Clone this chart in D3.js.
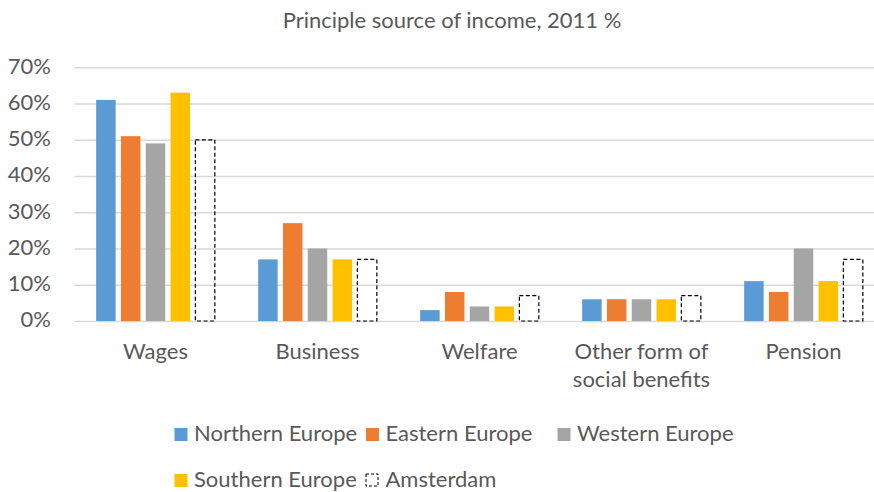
<!DOCTYPE html>
<html>
<head>
<meta charset="utf-8">
<script src="https://cdn.jsdelivr.net/npm/d3@7"></script>
<style>
  html, body { margin: 0; padding: 0; background: #fff; }
  svg { display: block; font-family: Lato, "Open Sans", sans-serif; }
</style>
</head>
<body>
<svg id="chart" width="874" height="492"></svg>
<script>
// Principal source of income by region, 2011 (share of respondents)
const categories = ["Wages", "Business", "Welfare", "Other form of social benefits", "Pension"];
const seriesNames = ["Northern Europe", "Eastern Europe", "Western Europe", "Southern Europe", "Amsterdam"];
const northernEurope = [0.61, 0.17, 0.03, 0.06, 0.11];
const easternEurope  = [0.51, 0.27, 0.08, 0.06, 0.08];
const westernEurope  = [0.49, 0.20, 0.04, 0.06, 0.20];
const southernEurope = [0.63, 0.17, 0.04, 0.06, 0.11];
const amsterdam      = [0.50, 0.17, 0.07, 0.07, 0.17];
const yTicks = [0, 0.1, 0.2, 0.3, 0.4, 0.5, 0.6, 0.7];
const titleText = "Principle source of income, 2011 %";

const seriesValues = [northernEurope, easternEurope, westernEurope, southernEurope, amsterdam];
const colors = ["#5b9bd5", "#ed7d31", "#a5a5a5", "#ffc000", "none"];
const textColor = "#595959";
const fontSize = 22;

const svg = d3.select("#chart");

const plot = { left: 74.5, right: 884.5, top: 67.3, bottom: 321 };

const x0 = d3.scaleBand()
  .domain(categories)
  .range([plot.left, plot.right])
  .padding(0);

const x1 = d3.scaleBand()
  .domain(seriesNames)
  .range([0, x0.bandwidth()])
  .paddingInner(0.214)
  .paddingOuter(0.873);

const y = d3.scaleLinear()
  .domain([0, 0.7])
  .range([plot.bottom, plot.top]);

// Title
svg.append("text")
  .attr("x", 452)
  .attr("y", 28)
  .attr("text-anchor", "middle")
  .attr("fill", textColor)
  .style("font-size", fontSize + "px")
  .text(titleText);

// Value axis with horizontal gridlines
const yAxis = svg.append("g")
  .attr("transform", `translate(${plot.left},0)`)
  .call(d3.axisLeft(y)
    .tickValues(yTicks)
    .tickFormat(d3.format(".0%"))
    .tickSizeInner(-(plot.right - plot.left))
    .tickSizeOuter(0)
    .tickPadding(23.5));
yAxis.select(".domain").remove();
yAxis.selectAll(".tick line")
  .attr("stroke", "#d9d9d9")
  .attr("stroke-width", 1.5);
yAxis.selectAll(".tick text")
  .attr("fill", textColor)
  .attr("dy", "0.27em")
  .style("font-size", fontSize + "px")
  .style("font-family", "Lato, 'Open Sans', sans-serif");

// Bars
const rows = categories.map((c, ci) => ({
  category: c,
  values: seriesNames.map((s, si) => ({ series: s, index: si, value: seriesValues[si][ci] }))
}));

const groups = svg.append("g")
  .selectAll("g")
  .data(rows)
  .join("g")
  .attr("transform", d => `translate(${x0(d.category)},0)`);

groups.selectAll("rect")
  .data(d => d.values)
  .join("rect")
  .attr("x", d => x1(d.series))
  .attr("y", d => y(d.value))
  .attr("width", x1.bandwidth())
  .attr("height", d => y(0) - y(d.value))
  .attr("fill", d => d.index === 4 ? "none" : colors[d.index])
  .attr("stroke", d => d.index === 4 ? "#000" : "none")
  .attr("stroke-width", d => d.index === 4 ? 1.2 : 0)
  .attr("stroke-dasharray", d => d.index === 4 ? "4,2.5" : null);

// Category axis labels (wrapped)
const xAxis = svg.append("g")
  .attr("transform", `translate(0,${plot.bottom})`)
  .call(d3.axisBottom(x0).tickSize(0).tickPadding(0));
xAxis.select(".domain").remove();
xAxis.selectAll(".tick text")
  .attr("fill", textColor)
  .style("font-size", fontSize + "px")
  .style("font-family", "Lato, 'Open Sans', sans-serif")
  .attr("y", 38.3)
  .attr("dy", null)
  .each(function(d) {
    const el = d3.select(this);
    const words = d.split(" ");
    el.text(null);
    const maxW = 150;
    let line = [];
    let lineNo = 0;
    let tspan = el.append("tspan").attr("x", 0).attr("y", 38.3);
    words.forEach(w => {
      line.push(w);
      tspan.text(line.join(" "));
      if (tspan.node().getComputedTextLength() > maxW && line.length > 1) {
        line.pop();
        tspan.text(line.join(" "));
        line = [w];
        lineNo += 1;
        tspan = el.append("tspan").attr("x", 0).attr("y", 38.3 + lineNo * 28).text(w);
      }
    });
  });

// Legend
const legendCol = 191.5;
const legendX = 174;
const legendRows = [441, 487];
const legend = svg.append("g")
  .selectAll("g")
  .data(seriesNames)
  .join("g")
  .attr("transform", (d, i) => `translate(${legendX + (i % 3) * legendCol},${legendRows[Math.floor(i / 3)]})`);

legend.append("rect")
  .attr("x", 0.5)
  .attr("y", -13)
  .attr("width", (d, i) => i === 4 ? 12 : 13)
  .attr("height", (d, i) => i === 4 ? 12 : 13)
  .attr("fill", (d, i) => i === 4 ? "none" : colors[i])
  .attr("stroke", (d, i) => i === 4 ? "#000" : "none")
  .attr("stroke-width", 1)
  .attr("stroke-dasharray", (d, i) => i === 4 ? "3,2" : null);

legend.append("text")
  .attr("x", 20)
  .attr("y", 0)
  .attr("fill", textColor)
  .style("font-size", fontSize + "px")
  .text(d => d);
</script>
</body>
</html>
